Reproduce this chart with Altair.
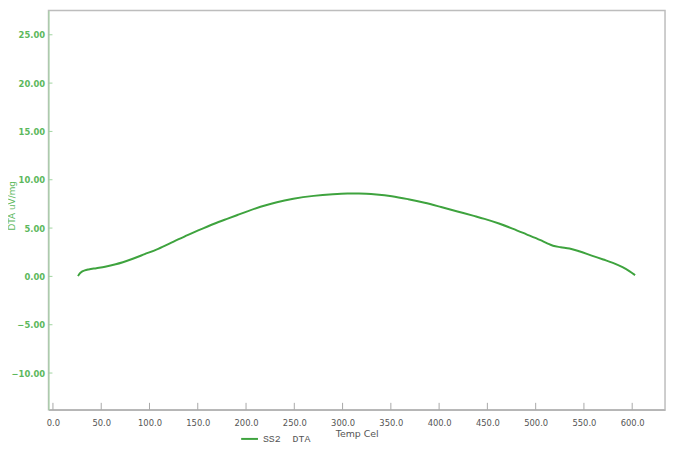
import altair as alt
import pandas as pd

# ---- data ----
temps = [26, 27, 28.5, 30, 33, 37, 45, 54, 65, 82, 95, 109, 125, 140, 155, 167,
         181, 191, 200, 215, 232, 249, 270, 290, 305, 317, 335, 351, 368, 385,
         402, 419, 436, 447, 462, 476, 490, 505, 512, 518, 526, 535, 545, 558,
         570, 580, 590, 597, 603]
dta = [0.03, 0.2, 0.38, 0.5, 0.62, 0.72, 0.85, 1.0, 1.25, 1.8, 2.3, 2.85, 3.6,
       4.3, 4.95, 5.45, 5.98, 6.35, 6.68, 7.2, 7.68, 8.03, 8.33, 8.5, 8.57, 8.58,
       8.48, 8.3, 7.99, 7.62, 7.18, 6.72, 6.26, 5.95, 5.47, 4.95, 4.38, 3.75,
       3.42, 3.17, 3.02, 2.88, 2.6, 2.15, 1.75, 1.4, 0.95, 0.55, 0.13]
series_name = "SS2\u00a0\u00a0DTA"
x_ticks = [0, 50, 100, 150, 200, 250, 300, 350, 400, 450, 500, 550, 600]
y_ticks = [-10, -5, 0, 5, 10, 15, 20, 25]

W, H = 624, 404
LINE = "#3ea33e"
GREEN_TXT = "#5cb85c"
GREEN_AX = "#9fd49f"
GRAY_AX = "#a8a8a8"
GRAY_TXT = "#555555"
FONT = "DejaVu Sans"

df = pd.DataFrame({"T": temps, "V": dta, "s": [series_name] * len(temps)})
xt = pd.DataFrame({"T": x_ticks})
yt = pd.DataFrame({"V": y_ticks})

xs = alt.Scale(domain=[-4.6, 634], nice=False, zero=False)
ys = alt.Scale(domain=[-13.8, 27.5], nice=False, zero=False)

x_axis = alt.Axis(
    title="Temp Cel", values=x_ticks, format=".1f", ticks=False,
    grid=False, domainColor=GRAY_AX, labelColor=GRAY_TXT,
    labelFont=FONT, labelFontSize=8.5, labelPadding=9,
    titleFont=FONT, titleFontSize=9.5, titleFontWeight="normal",
    titleColor=GRAY_TXT, titlePadding=2, labelFlush=False)
y_axis = alt.Axis(
    title="DTA uV/mg", values=y_ticks, format=".2f", ticks=False,
    grid=False, domainColor=GREEN_AX, labelColor=GREEN_TXT,
    labelFont=FONT, labelFontSize=8.5, labelFontWeight="bold",
    labelPadding=4, titleFont=FONT, titleFontSize=9,
    titleFontWeight="normal", titleColor=GREEN_TXT, titleX=-32,
    titleY=197, labelFlush=False)

line = alt.Chart(df).mark_line(strokeWidth=2, interpolate="monotone").encode(
    x=alt.X("T:Q", scale=xs, axis=x_axis),
    y=alt.Y("V:Q", scale=ys, axis=y_axis),
    color=alt.Color("s:N", scale=alt.Scale(range=[LINE]), legend=alt.Legend(
        title=None, orient="none", legendX=194, legendY=424,
        symbolType="stroke", symbolSize=289, symbolStrokeWidth=2,
        labelFont="Liberation Mono", labelFontSize=10, labelColor=GRAY_TXT,
        labelOffset=4, padding=0)),
)

ytick_layer = alt.Chart(yt).mark_rule(color=GREEN_AX, strokeWidth=1).encode(
    y=alt.Y("V:Q", scale=ys, axis=y_axis),
    x=alt.value(0), x2=alt.value(4),
)
xtick_layer = alt.Chart(xt).mark_rule(color=GRAY_AX, strokeWidth=1).encode(
    x=alt.X("T:Q", scale=xs, axis=x_axis),
    y=alt.value(H), y2=alt.value(H - 7),
)

chart = alt.layer(line, ytick_layer, xtick_layer).properties(
    width=W, height=H,
    autosize=alt.AutoSizeParams(type="none"),
    padding={"left": 41, "top": 0, "right": 2, "bottom": 32},
).configure_view(stroke="#bdbdbd", strokeWidth=1.5)

chart.save("out.html", embed_options={"renderer": "svg", "actions": False})
